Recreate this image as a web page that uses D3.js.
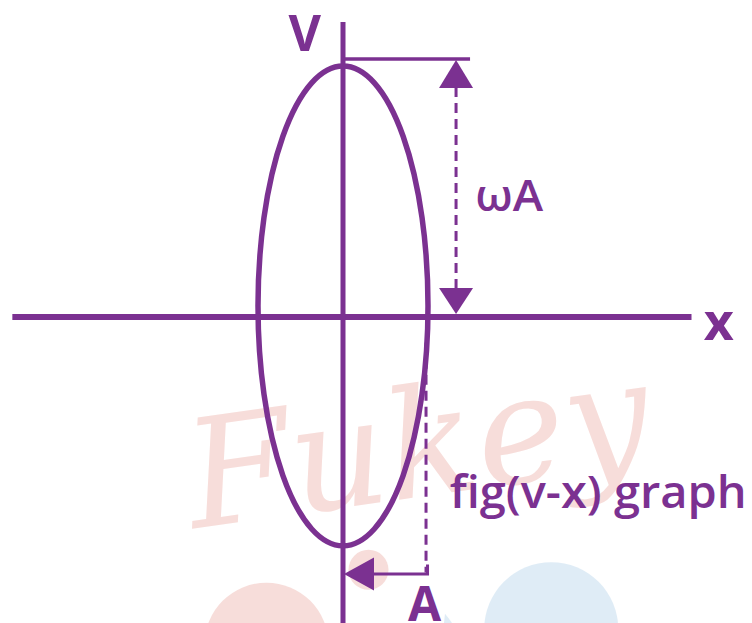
<!DOCTYPE html>
<html>
<head>
<meta charset="utf-8">
<script src="https://cdn.jsdelivr.net/npm/d3@7"></script>
<style>
  html, body { margin: 0; padding: 0; background: #ffffff; }
  svg { display: block; }
</style>
</head>
<body>
<script>
// ---- data (in chart units: x in units of A, v in units of ωA) ----
const xAxisExtent = [-3.89, 4.1];        // horizontal axis span
const vAxisExtent = [1.143, -1.25];      // vertical axis span
const ellipseCenter = [0, 0.043];        // centre of the v-x ellipse
const ellipseRadii = [1.0, 0.93];        // semi-axes (x, v)
const omegaAMarker = { x: 1.33, v: [1.0, 0] };   // ωA double arrow
const ampMarker = { x: 0.965, v: -0.99 };        // A marker
const labels = [
  { text: "V", x: -0.45, v: 1.03, size: 50, weight: 700, anchor: "middle", len: null },
  { text: "x", x: 4.42, v: -0.09, size: 52, weight: 700, anchor: "middle", len: null },
  { text: "ωA", x: 1.555, v: 0.41, size: 43, weight: 600, anchor: "start", len: 68 },
  { text: "fig(v-x) graph", x: 1.255, v: -0.74, size: 45, weight: 600, anchor: "start", len: 297 },
  { text: "A", x: 0.96, v: -1.18, size: 48, weight: 700, anchor: "middle", len: null }
];

const W = 752, H = 623;
const purple = "#7b3191";

const xs = d3.scaleLinear().domain([-1, 1]).range([258, 428]);
const vs = d3.scaleLinear().domain([0, 1]).range([317, 59]);

const svg = d3.select("body").append("svg").attr("width", W).attr("height", H);

// faint watermark
const wm = svg.append("g").attr("opacity", 0.55);
wm.append("text").text("Fukey")
  .attr("x", xs(-1.75)).attr("y", vs(-0.82))
  .attr("font-family", "DejaVu Serif").attr("font-style", "italic")
  .attr("font-size", 150).attr("fill", "#f2c2bc")
  .attr("transform", `rotate(-8 ${xs(-1.75)} ${vs(-0.82)})`);
wm.append("circle").attr("cx", xs(-0.9)).attr("cy", vs(-1.27)).attr("r", 62).attr("fill", "#f2c2bc");
wm.append("circle").attr("cx", xs(0.3)).attr("cy", vs(-0.98)).attr("r", 20).attr("fill", "#f2c2bc");
wm.append("circle").attr("cx", xs(2.45)).attr("cy", vs(-1.21)).attr("r", 67).attr("fill", "#c6def0");
wm.append("path").attr("fill", "#c6def0")
  .attr("d", `M${xs(1.2)},${vs(-1.15)} Q${xs(1.45)},${vs(-1.25)} ${xs(1.35)},${vs(-1.3)} L${xs(1.15)},${vs(-1.3)} Z`);

const line = d3.line();

// horizontal axis
svg.append("path")
  .attr("d", line([[xs(xAxisExtent[0]), vs(0)], [xs(xAxisExtent[1]), vs(0)]]))
  .attr("stroke", purple).attr("stroke-width", 6).attr("fill", "none");

// vertical axis
svg.append("path")
  .attr("d", line([[xs(0), vs(vAxisExtent[0])], [xs(0), vs(vAxisExtent[1])]]))
  .attr("stroke", purple).attr("stroke-width", 5).attr("fill", "none");

// ellipse
svg.append("ellipse")
  .attr("cx", xs(ellipseCenter[0])).attr("cy", vs(ellipseCenter[1]))
  .attr("rx", xs(ellipseRadii[0]) - xs(0)).attr("ry", vs(0) - vs(ellipseRadii[1]))
  .attr("stroke", purple).attr("stroke-width", 5.5).attr("fill", "none");

// ωA marker: top reference line, dashed shaft and two arrowheads
const mx = xs(omegaAMarker.x);
const vTop = vs(omegaAMarker.v[0]), vBot = vs(omegaAMarker.v[1]);
svg.append("path")
  .attr("d", line([[xs(0), vTop], [mx + 14, vTop]]))
  .attr("stroke", purple).attr("stroke-width", 3.5).attr("fill", "none");
svg.append("path")
  .attr("d", line([[mx, vTop + 28], [mx, vBot - 28]]))
  .attr("stroke", purple).attr("stroke-width", 3).attr("stroke-dasharray", "10,6").attr("fill", "none");
svg.append("path")
  .attr("d", line([[mx, vTop + 1], [mx - 17, vTop + 29], [mx + 17, vTop + 29]]) + "Z")
  .attr("fill", purple);
svg.append("path")
  .attr("d", line([[mx, vBot - 3], [mx - 17, vBot - 29], [mx + 17, vBot - 29]]) + "Z")
  .attr("fill", purple);

// A marker: dashed drop line from ellipse edge, horizontal line, arrowhead at v-axis
const ax = xs(ampMarker.x), ay = vs(ampMarker.v);
svg.append("path")
  .attr("d", line([[ax + 1, vs(-0.1)], [ax + 1, ay]]))
  .attr("stroke", purple).attr("stroke-width", 3).attr("stroke-dasharray", "10,6").attr("fill", "none");
svg.append("path")
  .attr("d", line([[ax + 2.5, ay - 8], [ax + 2.5, ay + 1.5], [xs(0) + 28, ay + 1.5]]))
  .attr("stroke", purple).attr("stroke-width", 3).attr("fill", "none");
svg.append("path")
  .attr("d", line([[xs(0) + 1, ay + 1.5], [xs(0) + 31, ay - 15], [xs(0) + 31, ay + 18]]) + "Z")
  .attr("fill", purple);

// labels
const lbl = svg.selectAll("text.lbl").data(labels).enter().append("text")
  .attr("class", "lbl")
  .attr("x", d => xs(d.x)).attr("y", d => vs(d.v))
  .attr("text-anchor", d => d.anchor)
  .attr("font-family", "'Open Sans', sans-serif")
  .attr("font-size", d => d.size).attr("font-weight", d => d.weight)
  .attr("fill", purple)
  .text(d => d.text);
lbl.filter(d => d.len).attr("textLength", d => d.len).attr("lengthAdjust", "spacingAndGlyphs");
</script>
</body>
</html>
